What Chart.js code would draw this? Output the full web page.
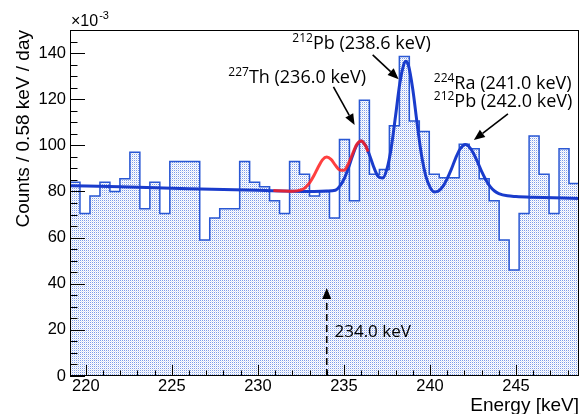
<!DOCTYPE html>
<html><head><meta charset="utf-8">
<script src="https://cdn.jsdelivr.net/npm/chart.js@4.4.1/dist/chart.umd.min.js"></script>
<style>html,body{margin:0;padding:0;background:#fff;overflow:hidden}canvas{display:block}</style>
</head><body>
<canvas id="c" width="583" height="414"></canvas>
<script>
// ---- data ----
const binStart = 219.08;          // keV, low edge of first bin
const binWidth = 0.58;            // keV
const counts = [84,70.5,78,84,80,85.5,97,72.5,84,70.5,93,93,93,59,68.5,72.5,72.5,93,84,82,76,70.5,93,87.5,78,80,68.5,102.5,76,119.5,87.5,89.5,108.5,138.5,110.5,106,87.5,86,86,100.5,98.5,85.5,76,59,46,70.5,104,87.5,70.5,98.5,83.5]; // x 1e-3 counts/0.58keV/day

const fitBlueE = [219.08,222,226,230,232,233,234,234.5,234.75,235,235.25,235.5,235.75,236,236.25,236.5,236.75,237,237.25,237.5,237.75,238,238.25,238.5,238.6,238.75,239,239.25,239.5,239.75,240,240.25,240.5,240.75,241,241.25,241.5,241.75,242.05,242.25,242.5,242.75,243,243.25,243.5,243.75,244,244.5,245,246,248.66];
const fitBlueV = [82.5,82.0,81.2,80.5,80.1,80.0,80.2,80.5,82.2,85.3,90,95.5,100.1,101.9,100.0,95.5,90.2,86.4,85.8,89.8,99,112.8,127,135.6,136.5,134.6,124.3,109.6,96.1,86.9,81.9,79.8,80.2,82.2,85.6,89.8,94.6,98.4,100.4,99.6,96.9,93,88.7,85,82.1,80.2,79.1,78.1,77.8,77.5,77.0];

const fitRedE = [230.9,231.5,232,232.5,232.75,233,233.25,233.5,233.75,234,234.25,234.5,234.75,235,235.25,235.5,235.75,236,236.25,236.4];
const fitRedV = [80.4,80.2,80.1,80.7,81.7,83.7,86.8,90.5,93.7,94.9,93.9,91.4,89.3,89.2,91.9,96.3,100.4,101.9,99.9,97.3];

const xTickLabels = [220,225,230,235,240,245];
const yTickLabels = [0,20,40,60,80,100,120,140];

// ---- build datasets ----
const nBins = counts.length;
const xMax = binStart + nBins*binWidth;
const histPts = counts.map((v,i)=>({x: binStart + i*binWidth, y: v}));
histPts.push({x: xMax, y: counts[nBins-1]});
const bluePts = fitBlueE.map((e,i)=>({x:e, y:fitBlueV[i]}));
const redPts = fitRedE.map((e,i)=>({x:e, y:fitRedV[i]}));

const cv = document.getElementById('c');
const ctx0 = cv.getContext('2d');
const pc = document.createElement('canvas'); pc.width=2; pc.height=2;
const pg = pc.getContext('2d');
pg.fillStyle='#fff'; pg.fillRect(0,0,2,2);
pg.fillStyle='rgb(125,155,232)'; pg.fillRect(0,0,1,1);
pg.fillStyle='rgb(222,228,246)'; pg.fillRect(1,1,1,1);
const dotPattern = ctx0.createPattern(pc,'repeat');

const TICK_FONT = {family:'"Liberation Sans", Arial, sans-serif', size:16.5};
const ANN_FAMILY = '"Open Sans", "DejaVu Sans", sans-serif';

function arrow(ctx,x1,y1,x2,y2,dash){
  ctx.save(); ctx.lineWidth=1.6; ctx.strokeStyle='#000'; ctx.fillStyle='#000';
  const ang=Math.atan2(y2-y1,x2-x1), L=11, W=4.5;
  const bx=x2-L*Math.cos(ang), by=y2-L*Math.sin(ang);
  if(dash) ctx.setLineDash(dash);
  ctx.beginPath(); ctx.moveTo(x1,y1); ctx.lineTo(bx,by); ctx.stroke();
  ctx.setLineDash([]);
  ctx.beginPath(); ctx.moveTo(x2,y2);
  ctx.lineTo(bx - W*Math.sin(ang), by + W*Math.cos(ang));
  ctx.lineTo(bx + W*Math.sin(ang), by - W*Math.cos(ang));
  ctx.closePath(); ctx.fill();
  ctx.restore();
}
function isoLabel(ctx,sup,main,x,y,size){
  ctx.save(); ctx.fillStyle='#000'; ctx.textBaseline='alphabetic'; ctx.textAlign='left';
  let w=0;
  if(sup){ ctx.font='12px '+ANN_FAMILY; ctx.fillText(sup,x,y-7); w=ctx.measureText(sup).width; }
  ctx.font=size+'px '+ANN_FAMILY; ctx.fillText(main,x+w,y);
  ctx.restore();
}

const rootPlugin = {
  id:'rootStyle',
  beforeDraw(chart){ const c=chart.ctx; c.save(); c.fillStyle='#fff'; c.fillRect(0,0,chart.width,chart.height); c.restore(); },
  afterDatasetsDraw(chart){
    const c=chart.ctx, a=chart.chartArea, xs=chart.scales.x, ys=chart.scales.y;
    c.save();
    c.strokeStyle='#000'; c.lineWidth=1;
    // frame
    c.strokeRect(Math.round(a.left)+0.5, Math.round(a.top)+0.5, Math.round(a.right-a.left)-1, Math.round(a.bottom-a.top)-1);
    // ticks
    c.beginPath();
    for(let e=220;e<=248;e++){
      const px=Math.round(xs.getPixelForValue(e))+0.5;
      const L=(e%5===0)?11:5.5;
      c.moveTo(px,a.bottom); c.lineTo(px,a.bottom-L);
    }
    for(let v=0;v<=145;v+=5){
      const py=Math.round(ys.getPixelForValue(v))+0.5;
      const L=(v%20===0)?15:7.5;
      c.moveTo(a.left,py); c.lineTo(a.left+L,py);
    }
    c.stroke();
    // axis titles
    c.fillStyle='#000';
    c.font='19px "Liberation Sans", Arial, sans-serif';
    c.textAlign='right'; c.textBaseline='alphabetic';
    c.fillText('Energy [keV]', a.right, 411);
    c.save(); c.translate(29, a.top); c.rotate(-Math.PI/2);
    c.textAlign='right'; c.fillText('Counts / 0.58 keV / day', 0, 0);
    c.restore();
    // exponent
    c.textAlign='left';
    c.font='16px "Liberation Sans", Arial, sans-serif';
    c.fillText('\u00d710', a.left+1, 26);
    const w10=c.measureText('\u00d710').width;
    c.font='11px "Liberation Sans", Arial, sans-serif';
    c.fillText('-3', a.left+1+w10+1, 19);
    c.restore();
    // annotations (data coordinates)
    const X=e=>xs.getPixelForValue(e), Y=v=>ys.getPixelForValue(v);
    arrow(c, X(234.39),Y(125.3), X(235.62),Y(108.8));
    arrow(c, X(236.67),Y(139.2), X(238.18),Y(128.7));
    arrow(c, X(244.53),Y(113.6), X(242.55),Y(102.3));
    arrow(c, X(234.0),Y(0), X(234.0),Y(38.1),[7,4]);
    isoLabel(c,'212','Pb (238.6 keV)', X(232.0), Y(144.4)+6, 18);
    isoLabel(c,'227','Th (236.0 keV)', X(228.28), Y(129.6)+6, 18);
    isoLabel(c,'224','Ra (241.0 keV)', X(240.22), Y(127.2)+6, 18);
    isoLabel(c,'212','Pb (242.0 keV)', X(240.22), Y(119.2)+6, 18);
    isoLabel(c,'','234.0 keV', X(234.45), Y(19.5)+6, 17);
  }
};

new Chart(cv, {
  type:'line',
  data:{ datasets:[
    {label:'fit 234', data:redPts, borderColor:'rgba(255,30,30,0.85)', borderWidth:3, pointRadius:0, cubicInterpolationMode:'monotone', fill:false, order:0},
    {label:'fit', data:bluePts, borderColor:'#1a3ccc', borderWidth:3, pointRadius:0, cubicInterpolationMode:'monotone', fill:false, order:1},
    {label:'data', data:histPts, stepped:true, borderColor:'#2a58d4', borderWidth:1.5, pointRadius:0, fill:'origin', backgroundColor:dotPattern, order:2}
  ]},
  options:{
    responsive:false, animation:false, devicePixelRatio:1,
    layout:{padding:{top:30,right:4,left:0,bottom:0}},
    plugins:{legend:{display:false}, tooltip:{enabled:false}},
    scales:{
      x:{type:'linear', min:binStart, max:xMax,
         grid:{display:false, drawTicks:false}, border:{display:false},
         ticks:{font:TICK_FONT, color:'#000', padding:1, maxRotation:0, autoSkip:false},
         afterBuildTicks:s=>{s.ticks=xTickLabels.map(v=>({value:v}));},
         afterFit:s=>{s.height=38;}},
      y:{type:'linear', min:0, max:150,
         grid:{display:false, drawTicks:false}, border:{display:false},
         ticks:{font:TICK_FONT, color:'#000', padding:4},
         afterBuildTicks:s=>{s.ticks=yTickLabels.map(v=>({value:v}));},
         afterFit:s=>{s.width=70;}}
    }
  },
  plugins:[rootPlugin]
});
</script>
</body></html>
